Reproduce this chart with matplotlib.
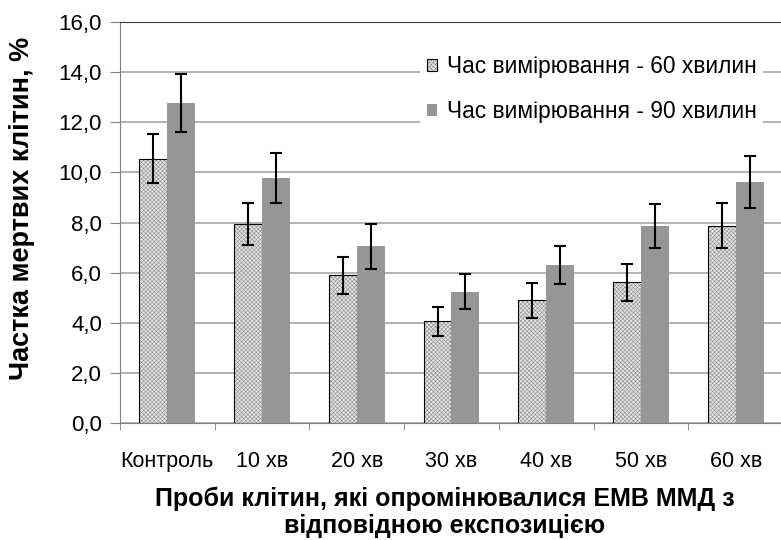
import matplotlib
matplotlib.use("Agg")
import matplotlib.pyplot as plt
import numpy as np

plt.rcParams['font.family'] = ['Liberation Sans', 'DejaVu Sans']
plt.rcParams['hatch.linewidth'] = 0.4

# data
categories = ["Контроль", "10 хв", "20 хв", "30 хв", "40 хв", "50 хв", "60 хв"]
vals_60 = [10.55, 7.94, 5.89, 4.06, 4.90, 5.61, 7.87]
err_60 = [0.98, 0.83, 0.75, 0.58, 0.70, 0.75, 0.89]
vals_90 = [12.77, 9.78, 7.06, 5.23, 6.30, 7.86, 9.62]
err_90 = [1.14, 1.00, 0.90, 0.70, 0.76, 0.87, 1.03]
labels = ["Час вимірювання - 60 хвилин", "Час вимірювання - 90 хвилин"]
yticks = np.arange(0, 16.1, 2)

fig = plt.figure(figsize=(7.81, 5.4), dpi=100)
ax = fig.add_axes([120/781, 117/540, 663/781, 401/540])

x = np.arange(len(categories))
w = 0.295

b1 = ax.bar(x - w/2, vals_60, w, facecolor='#e4e4e4', edgecolor='black',
            hatch='xxxxxxxx', linewidth=0.8, label=labels[0], zorder=2)
for p in b1:
    p._hatch_color = (0.55, 0.55, 0.55, 1)
ax.bar(x + w/2, vals_90, w, color='#969696', label=labels[1], zorder=2)

ax.errorbar(x - w/2, vals_60, yerr=err_60, fmt='none', ecolor='black',
            elinewidth=1.5, capsize=4.5, capthick=1.5, zorder=3)
ax.errorbar(x + w/2, vals_90, yerr=err_90, fmt='none', ecolor='black',
            elinewidth=1.5, capsize=4.5, capthick=1.5, zorder=3)

ax.set_ylim(0, 16)
ax.set_xlim(-0.5, 6.5)
ax.set_yticks(yticks)
ax.set_yticklabels([f"{v:.1f}".replace('.', ',') for v in yticks], fontsize=16)
ax.yaxis.grid(True, color='#a6a6a6', linewidth=1.2, zorder=0)
ax.set_axisbelow(True)

ax.set_xticks(x)
ax.set_xticklabels(categories, fontsize=15.5)
ax.tick_params(axis='x', length=0, pad=20)
ax.set_xticks(np.arange(-0.5, 6.6, 1), minor=True)
ax.tick_params(axis='x', which='minor', length=5, color='#808080')
ax.tick_params(axis='y', length=7, color='#808080', direction='out', pad=6)

for s in ['left', 'bottom']:
    ax.spines[s].set_color('#808080')
ax.spines['top'].set_color('#404040')
ax.spines['right'].set_visible(False)

ax.set_ylabel("Частка мертвих клітин, %", fontsize=19.5, fontweight='bold')
ax.yaxis.set_label_coords(-0.128, 0.536)
ax.set_xlabel("Проби клітин, які опромінювалися ЕМВ ММД з\nвідповідною експозицією",
              fontsize=18, fontweight='bold', linespacing=1.15)
ax.xaxis.set_label_coords(0.49, -0.158)

leg = ax.legend(loc='upper left', bbox_to_anchor=(409/781, 1 - 37/540),
                bbox_transform=fig.transFigure, fontsize=16.4,
                frameon=True, framealpha=1, edgecolor='white', fancybox=False,
                handlelength=0.45, handleheight=0.45, handletextpad=0.4,
                labelspacing=0.95, borderpad=0.3)
leg.get_frame().set_linewidth(0)

fig.savefig("out.png", dpi=100)
